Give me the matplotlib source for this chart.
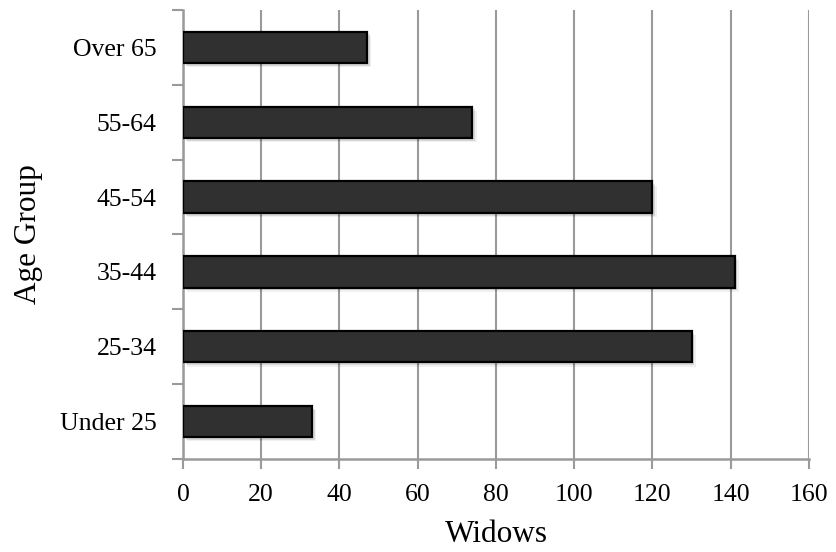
import matplotlib
matplotlib.use("Agg")
import matplotlib.pyplot as plt
import matplotlib.patheffects as pe

categories = ["Under 25", "25-34", "35-44", "45-54", "55-64", "Over 65"]
widows = [33, 130, 141, 120, 74, 47]
x_ticks = [0, 20, 40, 60, 80, 100, 120, 140, 160]

plt.rcParams["font.family"] = ["Liberation Serif", "DejaVu Serif"]

fig = plt.figure(figsize=(8.37, 5.52), dpi=100)
ax = fig.add_axes([0.2186, 0.1685, 0.9665 - 0.2186, 0.9819 - 0.1685])

grey = "#9a9a9a"
ypos = list(range(len(categories)))
bars = ax.barh(ypos, widows, height=0.42, color="#303030",
               edgecolor="black", linewidth=1.6, zorder=3)
shadow = [
    pe.SimplePatchShadow(offset=(3, -3), shadow_rgbFace="#000000", alpha=0.06),
    pe.SimplePatchShadow(offset=(2, -2), shadow_rgbFace="#000000", alpha=0.10),
    pe.Normal(),
]
for b in bars:
    b.set_path_effects(shadow)

ax.set_xlim(0, 160)
ax.set_ylim(-0.5, len(categories) - 0.5)
ax.set_xticks(x_ticks)
ax.set_xticklabels([str(v) for v in x_ticks])

# category labels at centers, tick marks at the boundaries between categories
ax.set_yticks([y - 0.5 for y in range(len(categories) + 1)])
ax.set_yticklabels([])
ax.set_yticks(ypos, minor=True)
ax.set_yticklabels(categories, minor=True)
ax.tick_params(axis="y", which="minor", length=0, pad=19, labelsize=18.5)
ax.tick_params(axis="y", which="major", length=8, width=1.5, color=grey)
ax.tick_params(axis="x", length=7, width=1.5, color=grey, pad=11, labelsize=18.5)

ax.xaxis.grid(True, color=grey, linewidth=1.5, zorder=0)
ax.set_axisbelow(True)
for s in ("top", "right"):
    ax.spines[s].set_visible(False)
for s in ("left", "bottom"):
    ax.spines[s].set_color(grey)
    ax.spines[s].set_linewidth(1.8)

ax.set_xlabel("Widows", fontsize=22.5, labelpad=10)
ax.set_ylabel("Age Group", fontsize=22.5, labelpad=12)

fig.savefig("out.png", dpi=100)
